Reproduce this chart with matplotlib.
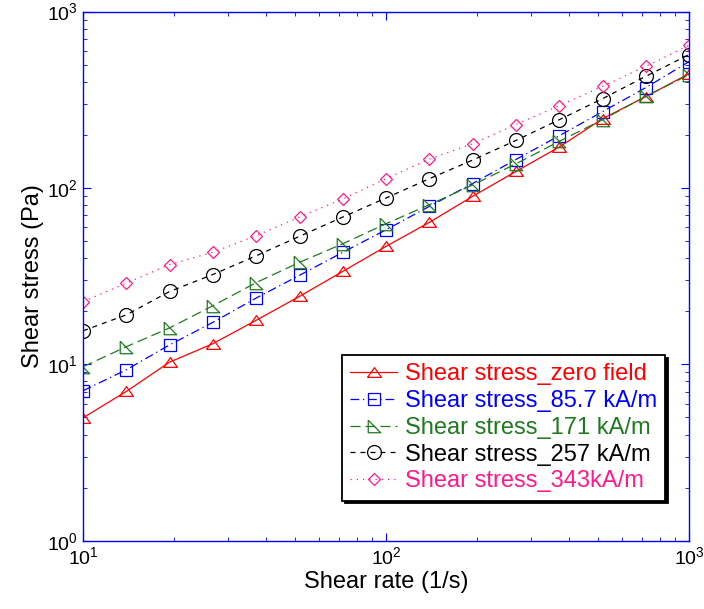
import numpy as np
import matplotlib
matplotlib.use('Agg')
from matplotlib import pyplot as plt

plt.rcParams['font.family'] = ['Liberation Sans', 'DejaVu Sans']
plt.rcParams['mathtext.fontset'] = 'custom'
plt.rcParams['mathtext.rm'] = 'Liberation Sans'

shear_rate = [10, 13.9, 19.3, 26.8, 37.3, 51.8, 72, 100, 139, 193, 268, 373, 518, 720, 1000]

zero_field = [4.98, 7.03, 10.3, 13.1, 17.8, 24.3, 33.7, 46.7, 63.9, 89.7, 124, 171, 247, 330, 445]
h_85 = [7.09, 9.33, 12.9, 17.3, 23.8, 32.0, 43.2, 58.0, 78.7, 106, 145, 198, 271, 371, 521]
h_171 = [9.70, 12.6, 16.1, 21.5, 29.1, 37.9, 48.3, 62.8, 80.4, 104, 137, 184, 244, 331, 439]
h_257 = [15.5, 19.1, 25.9, 32.3, 41.3, 53.2, 68.5, 87.8, 113, 144, 186, 244, 321, 430, 571]
h_343 = [22.7, 28.9, 36.8, 43.2, 53.7, 68.5, 86.7, 113, 146, 178, 229, 293, 377, 490, 644]

labels = ['Shear stress_zero field', 'Shear stress_85.7 kA/m', 'Shear stress_171 kA/m',
          'Shear stress_257 kA/m', 'Shear stress_343kA/m']
colors = ['#ff0000', '#0000ff', '#1f7a1f', '#000000', '#ff1a8c']

tri_up = [(-1, -0.7), (0, 0.7), (1, -0.7), (-1, -0.7)]
tri_corner = [(-1, 1), (-1, -1), (1, -1), (-1, 1)]
styles = [
    dict(ls='-', marker=tri_up, ms=10),
    dict(ls=(0, (7, 3, 1, 3)), marker='s', ms=9),
    dict(ls=(0, (8, 4)), marker=tri_corner, ms=9),
    dict(ls=(0, (4, 4)), marker='o', ms=10),
    dict(ls=(0, (1, 4)), marker='D', ms=6.6),
]

fig = plt.figure(figsize=(7.04, 6.09), dpi=100)
ax = fig.add_axes([0.118, 0.112, 0.861, 0.869])

for y, lab, c, st in zip([zero_field, h_85, h_171, h_257, h_343], labels, colors, styles):
    ax.plot(shear_rate, y, color=c, lw=0.9, mfc='none', mec=c, mew=0.9,
            label=lab, **st)

ax.set_xscale('log')
ax.set_yscale('log')
ax.set_xlim(10, 1000)
ax.set_ylim(1, 1000)

for s in ax.spines.values():
    s.set_color('#0000ff')
    s.set_linewidth(1.0)
ax.tick_params(which='both', direction='in', top=True, right=True, color='#0000ff',
               labelsize=14, pad=4)
ax.tick_params(which='major', length=6)
ax.tick_params(which='minor', length=3)

ax.set_xlabel('Shear rate (1/s)', fontsize=17, labelpad=2)
ax.set_ylabel('Shear stress (Pa)', fontsize=17, labelpad=2)

leg = ax.legend(loc='lower right', bbox_to_anchor=(0.96, 0.076), borderaxespad=0,
                fontsize=17, numpoints=1, handlelength=2.0, handletextpad=0.3,
                labelspacing=0.2, borderpad=0.35, fancybox=False, framealpha=1,
                edgecolor='black', shadow={'color': 'black', 'alpha': 1})
leg.get_frame().set_linewidth(1.3)
for t, c in zip(leg.get_texts(), colors):
    t.set_color(c)

fig.savefig('out.png', dpi=100)
